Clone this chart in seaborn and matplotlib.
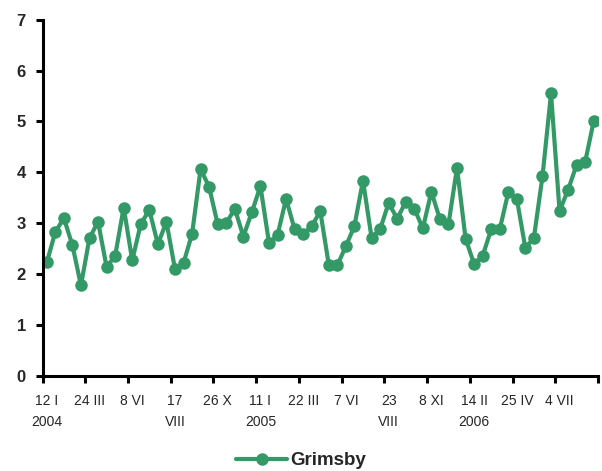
import numpy as np
import pandas as pd
import matplotlib
matplotlib.use('Agg')
import matplotlib.pyplot as plt
import seaborn as sns

# Grimsby series, one value per sampling date (65 dates)
values = [2.23, 2.83, 3.10, 2.57, 1.78, 2.71, 3.03, 2.14, 2.36, 3.31,
          2.27, 2.99, 3.26, 2.59, 3.03, 2.10, 2.22, 2.79, 4.07, 3.71,
          2.98, 3.00, 3.29, 2.74, 3.22, 3.73, 2.62, 2.77, 3.48, 2.88,
          2.79, 2.94, 3.24, 2.18, 2.18, 2.55, 2.95, 3.84, 2.72, 2.88,
          3.40, 3.09, 3.42, 3.29, 2.90, 3.62, 3.08, 2.98, 4.09, 2.70,
          2.20, 2.36, 2.88, 2.88, 3.61, 3.48, 2.51, 2.72, 3.92, 5.55,
          3.24, 3.66, 4.15, 4.21, 5.01]

# labels shown on every 5th date
date_labels = ['12 I\n2004', '24 III', '8 VI', '17\nVIII', '26 X',
               '11 I\n2005', '22 III', '7 VI', '23\nVIII', '8 XI',
               '14 II\n2006', '25 IV', '4 VII']
label_step = 5
series_name = 'Grimsby'

df = pd.DataFrame({'idx': np.arange(len(values)), 'value': values,
                   'site': series_name})

sns.set_style('white')
plt.rcParams['font.family'] = ['Liberation Sans', 'DejaVu Sans']

fig = plt.figure(figsize=(6.02, 4.71), dpi=100)
ax = fig.add_axes([0.0706, 0.2017, 0.9228, 0.7565])

green = '#339966'
sns.lineplot(data=df, x='idx', y='value', hue='site', palette=[green],
             marker='o', markersize=9, markeredgewidth=0, linewidth=3,
             ax=ax)

n = len(values)
ax.set_xlim(-0.5, n - 0.5)
ax.set_ylim(0, 7)
ax.set_yticks(range(0, 8))
ax.set_yticklabels([str(v) for v in range(0, 8)], fontsize=12,
                   fontweight='bold')

ax.set_xticks(np.arange(-0.5, n, label_step))
ax.set_xticklabels([])
ax.set_xticks(np.arange(0, n, label_step)[:len(date_labels)], date_labels,
              minor=True, fontsize=10, linespacing=1.6)
ax.tick_params(axis='x', which='minor', length=0, pad=13)
ax.tick_params(axis='both', which='major', direction='out', length=5,
               width=2.2, color='black', bottom=True, left=True)
ax.tick_params(axis='y', pad=7)

for side in ['top', 'right']:
    ax.spines[side].set_visible(False)
for side in ['left', 'bottom']:
    ax.spines[side].set_linewidth(2.2)
    ax.spines[side].set_color('black')

ax.set_xlabel('')
ax.set_ylabel('')
ax.grid(False)

ax.legend(loc='center', bbox_to_anchor=(0.5, 0.022),
          bbox_transform=fig.transFigure, frameon=False, handlelength=2.7,
          handletextpad=0.15, prop={'size': 13.5, 'weight': 'bold'})

fig.savefig('out.png', dpi=100)
plt.close(fig)
